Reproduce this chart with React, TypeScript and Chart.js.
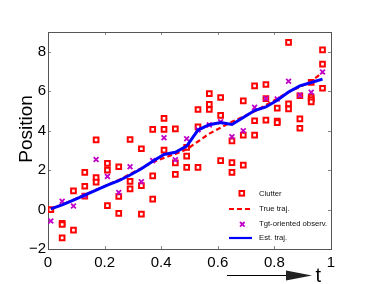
import React, { useEffect, useRef } from "react";
import { Chart, registerables } from "chart.js";

Chart.register(...registerables);

const times = [0.01, 0.05, 0.09, 0.13, 0.17, 0.21, 0.25, 0.29, 0.33, 0.37, 0.41, 0.45, 0.49, 0.53, 0.57, 0.61, 0.65, 0.69, 0.73, 0.77, 0.81, 0.85, 0.89, 0.93, 0.97];
const trueTraj = [0.0, 0.25, 0.5, 0.75, 1.0, 1.25, 1.5, 1.8, 2.1, 2.4, 2.62, 2.82, 3.05, 3.45, 3.85, 4.15, 4.45, 4.7, 4.98, 5.3, 5.62, 5.95, 6.22, 6.5, 6.95];
const estTraj = [0.03, 0.24, 0.48, 0.73, 0.99, 1.24, 1.46, 1.75, 2.07, 2.45, 2.79, 2.9, 3.22, 4.03, 4.3, 4.41, 4.31, 4.67, 5.02, 5.2, 5.54, 5.96, 6.27, 6.44, 6.61];
const tgtObs = [-0.58, 0.42, 0.18, 0.7, 2.54, 1.68, 0.86, 2.17, 1.41, 2.48, 3.64, 2.52, 3.59, 4.04, 4.29, 4.45, 3.69, 3.99, 5.18, 5.63, 5.6, 6.5, 5.8, 5.95, 6.97];
const clutter = [
  [0.0],
  [-0.7, -0.76, -1.44],
  [0.95, -1.04],
  [1.88, 1.18, 0.68],
  [3.53, 1.62, 1.39],
  [2.34, 2.0, 0.2],
  [2.17, 0.66, -0.19],
  [3.55, 1.43, 1.05],
  [3.08, 1.21, -0.23],
  [4.06, 1.71, 0.53],
  [4.62, 4.06, 3.01],
  [4.09, 2.37, 1.78],
  [3.15, 2.71, 2.14],
  [5.07, 4.19, 2.14],
  [5.88, 5.33, 5.07],
  [5.68, 4.77, 2.48],
  [3.48, 2.38, 1.88],
  [5.51, 3.77, 2.25],
  [6.27, 4.5, 3.77],
  [6.34, 5.62, 4.53],
  [5.14, 4.48, 4.41],
  [8.47, 5.36, 5.1],
  [5.77, 4.6, 4.12],
  [6.45, 5.7, 5.58, 5.46],
  [8.09, 7.37, 6.15],
];
const xTicks = [0, 0.2, 0.4, 0.6, 0.8, 1];
const yTicks = [-2, 0, 2, 4, 6, 8];
const legendLabels = ["Clutter", "True traj.", "Tgt-oriented observ.", "Est. traj."];
const yTitle = "Position";
const xTitle = "t";

const RED = "#ff0000";
const BLUE = "#0000ff";
const MAG = "#c000c8";

const framePlugin = {
  id: "frame",
  beforeDatasetsDraw(chart: any) {
    const { ctx, chartArea: a, scales } = chart;
    ctx.save();
    ctx.strokeStyle = "#888";
    ctx.lineWidth = 1;
    ctx.beginPath();
    xTicks.forEach((v) => {
      if (v <= 0 || v >= 1) return;
      const px = Math.round(scales.x.getPixelForValue(v)) + 0.5;
      ctx.moveTo(px, a.top);
      ctx.lineTo(px, a.top + 3);
      ctx.moveTo(px, a.bottom);
      ctx.lineTo(px, a.bottom - 3);
    });
    yTicks.forEach((v) => {
      const py = Math.round(scales.y.getPixelForValue(v)) + 0.5;
      ctx.moveTo(a.left, py);
      ctx.lineTo(a.left + 3, py);
      ctx.moveTo(a.right, py);
      ctx.lineTo(a.right - 3, py);
    });
    ctx.stroke();
    ctx.strokeStyle = "#555";
    ctx.strokeRect(Math.round(a.left) + 0.5, Math.round(a.top) + 0.5, Math.round(a.right - a.left), Math.round(a.bottom - a.top));
    ctx.restore();
  },
  afterDraw(chart: any) {
    const { ctx } = chart;
    ctx.save();
    // y title
    ctx.fillStyle = "#000";
    ctx.font = "19px 'Liberation Sans', Arial, sans-serif";
    ctx.translate(31.5, 129);
    ctx.rotate(-Math.PI / 2);
    ctx.textAlign = "center";
    ctx.textBaseline = "alphabetic";
    ctx.fillText(yTitle, 0, 0);
    ctx.restore();

    ctx.save();
    // arrow + t
    ctx.strokeStyle = "#000";
    ctx.lineWidth = 1;
    ctx.beginPath();
    ctx.moveTo(227, 275.5);
    ctx.lineTo(288, 275.5);
    ctx.stroke();
    ctx.fillStyle = "#222";
    ctx.beginPath();
    ctx.moveTo(286, 270.5);
    ctx.lineTo(312, 275.5);
    ctx.lineTo(286, 280.5);
    ctx.closePath();
    ctx.fill();
    ctx.fillStyle = "#000";
    ctx.font = "20px 'Liberation Sans', Arial, sans-serif";
    ctx.textAlign = "left";
    ctx.textBaseline = "alphabetic";
    ctx.fillText(xTitle, 315.5, 282);

    // legend
    ctx.font = "7.7px 'Liberation Sans', Arial, sans-serif";
    ctx.textBaseline = "middle";
    const tx = 259;
    const rows = [194, 209, 224, 238];
    // clutter
    ctx.strokeStyle = RED;
    ctx.lineWidth = 2;
    ctx.fillStyle = "#fff";
    ctx.fillRect(239.5, 191, 4.6, 4.6);
    ctx.strokeRect(239.5, 191, 4.6, 4.6);
    // true
    ctx.setLineDash([5, 3]);
    ctx.lineWidth = 2.2;
    ctx.beginPath();
    ctx.moveTo(229, rows[1]);
    ctx.lineTo(252, rows[1]);
    ctx.stroke();
    ctx.setLineDash([]);
    // cross
    ctx.strokeStyle = MAG;
    ctx.lineWidth = 1.8;
    ctx.beginPath();
    ctx.moveTo(240, 222);
    ctx.lineTo(244.6, 226.6);
    ctx.moveTo(244.6, 222);
    ctx.lineTo(240, 226.6);
    ctx.stroke();
    // est
    ctx.strokeStyle = BLUE;
    ctx.lineWidth = 2.2;
    ctx.beginPath();
    ctx.moveTo(229, rows[3]);
    ctx.lineTo(252, rows[3]);
    ctx.stroke();
    ctx.fillStyle = "#111";
    legendLabels.forEach((l, i) => ctx.fillText(l, tx, rows[i] + (i === 2 ? -0.5 : 0)));
    ctx.restore();
  },
};

export default function App() {
  const ref = useRef<HTMLCanvasElement>(null);
  useEffect(() => {
    document.body.style.margin = "0";
    const canvas = ref.current!;
    const clutterPts: { x: number; y: number }[] = [];
    clutter.forEach((arr, i) => arr.forEach((v) => clutterPts.push({ x: times[i], y: v })));
    const toPts = (arr: number[]) => arr.map((v, i) => ({ x: times[i], y: v }));
    const font = { family: "'Liberation Sans', Arial, sans-serif", size: 15 };
    const chart = new Chart(canvas, {
      type: "scatter",
      data: {
        datasets: [
          {
            label: legendLabels[0],
            data: clutterPts,
            pointStyle: "rect",
            pointRadius: 3.3,
            borderWidth: 2,
            borderColor: RED,
            backgroundColor: "#fff",
            showLine: false,
            order: 4,
          },
          {
            label: legendLabels[1],
            data: toPts(trueTraj),
            showLine: true,
            borderColor: RED,
            borderWidth: 2.2,
            borderDash: [5, 3],
            pointRadius: 0,
            order: 3,
          },
          {
            label: legendLabels[2],
            data: toPts(tgtObs),
            pointStyle: "crossRot",
            pointRadius: 3.4,
            borderWidth: 1.8,
            borderColor: MAG,
            backgroundColor: MAG,
            showLine: false,
            order: 2,
          },
          {
            label: legendLabels[3],
            data: toPts(estTraj),
            showLine: true,
            borderColor: BLUE,
            borderWidth: 3,
            pointRadius: 0,
            order: 1,
          },
        ],
      },
      options: {
        animation: false,
        responsive: false,
        events: [],
        layout: { padding: { left: 0, right: 34, top: 32, bottom: 0 } },
        plugins: { legend: { display: false }, tooltip: { enabled: false } },
        scales: {
          x: {
            type: "linear",
            min: 0,
            max: 1,
            grid: { display: false, drawTicks: false },
            border: { display: false },
            afterBuildTicks: (s: any) => {
              s.ticks = xTicks.map((v) => ({ value: v }));
            },
            afterFit: (s: any) => {
              s.height = 35;
            },
            ticks: { color: "#000", font, padding: 5, maxRotation: 0, autoSkip: false, callback: (v: any) => String(v) },
          },
          y: {
            type: "linear",
            min: -2,
            max: 9,
            grid: { display: false, drawTicks: false },
            border: { display: false },
            afterBuildTicks: (s: any) => {
              s.ticks = yTicks.map((v) => ({ value: v }));
            },
            afterFit: (s: any) => {
              s.width = 48;
            },
            ticks: { color: "#000", font, padding: 2, autoSkip: false, callback: (v: any) => String(v).replace("-", "\u2212") },
          },
        },
      },
      plugins: [framePlugin],
    });
    return () => chart.destroy();
  }, []);
  return <canvas ref={ref} width={365} height={284} style={{ display: "block", width: 365, height: 284 }} />;
}
